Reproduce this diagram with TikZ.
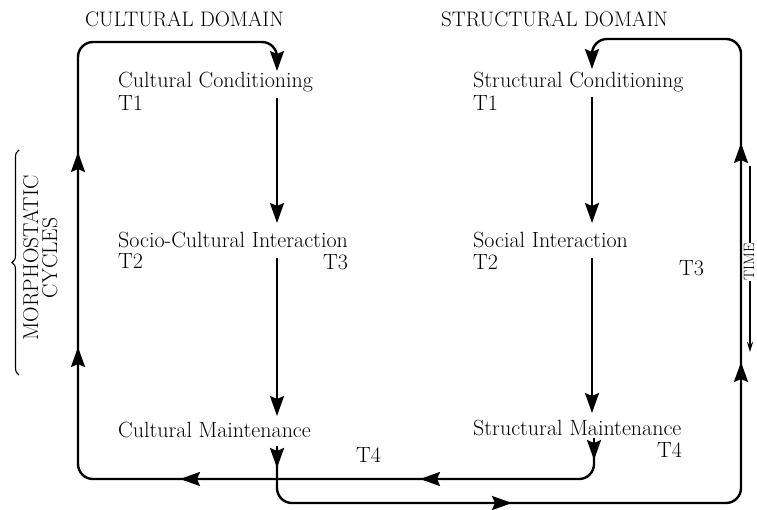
\documentclass[tikz,border=0pt]{standalone}
\usetikzlibrary{arrows.meta,decorations.pathreplacing}
\begin{document}
\begin{tikzpicture}[x=1pt,y=-1pt,
  txt/.style={inner sep=0pt,anchor=base west,font=\fontsize{22}{26}\selectfont},
  head/.style={inner sep=0pt,anchor=base west,font=\fontsize{21}{25}\selectfont},
  side/.style={inner sep=0pt,anchor=base,rotate=90,font=\fontsize{21.5}{25}\selectfont},
  arrowtip/.style={-{Stealth[length=20pt,width=14pt,inset=3pt]}},
  flow/.style={line width=2.4pt,arrowtip},
  timeline/.style={line width=2pt}]
\useasboundingbox (0,0) rectangle (757,509);

% headings
\node[head] (hc) at (85,26) {CULTURAL DOMAIN};
\node[head] (hs) at (441,26) {STRUCTURAL DOMAIN};

% cultural column
\node[txt] (cc) at (118,87) {Cultural Conditioning};
\node[txt] (ct1) at (118,110) {T1};
\node[txt] (ci) at (118,247) {Socio-Cultural Interaction};
\node[txt] (ct2) at (118,268) {T2};
\node[txt] (ct3) at (323,269) {T3};
\node[txt] (cm) at (118,437) {Cultural Maintenance};
\node[txt] (ct4) at (356,462) {T4};

% structural column
\node[txt] (sc) at (473,87) {Structural Conditioning};
\node[txt] (st1) at (473,110) {T1};
\node[txt] (si) at (473,247) {Social Interaction};
\node[txt] (st2) at (473,269) {T2};
\node[txt] (st3) at (679,275) {T3};
\node[txt] (sm) at (473,435) {Structural Maintenance};
\node[txt] (st4) at (657,457) {T4};

% side labels
\node[side] (morph) at (38,258) {MORPHOSTATIC};
\node[side] (cyc) at (57,258) {CYCLES};
\node[side,font=\fontsize{15}{18}\selectfont] (time) at (754,262) {TIME};

% waypoints of the downward flows
\coordinate (a1) at (277,98);  \coordinate (a2) at (277,223);
\coordinate (a3) at (277,258); \coordinate (a4) at (277,416);
\coordinate (b1) at (592,97);  \coordinate (b2) at (592,223);
\coordinate (b3) at (592,258); \coordinate (b4) at (592,413);

% downward flows within each domain
\draw[flow] (a1) -- (a2);
\draw[flow] (a3) -- (a4);
\draw[flow] (b1) -- (b2);
\draw[flow] (b3) -- (b4);

% structural maintenance feeds back to cultural conditioning
\coordinate (l0) at (594,443);
\coordinate (l1) at (594,479);
\coordinate (l2) at (78,479);
\coordinate (l3) at (78,42);
\coordinate (l4) at (277,42);
\coordinate (l5) at (277,71);
\draw[flow,rounded corners=15] (l0) -- (l1) -- (l2) -- (l3) -- (l4) [rounded corners=4] -- (l5);
% heads along the way
\coordinate (lh1) at (594,460);
\coordinate (lh2) at (420,479);
\coordinate (lh3) at (180,479);
\coordinate (lh4) at (78,347);
\coordinate (lh5) at (78,152);
\draw[flow] ([yshift=22pt]lh1) -- (lh1);
\draw[flow] ([xshift=22pt]lh2) -- (lh2);
\draw[flow] ([xshift=22pt]lh3) -- (lh3);
\draw[flow] ([yshift=-22pt]lh4) -- (lh4);
\draw[flow] ([yshift=-22pt]lh5) -- (lh5);

% cultural maintenance feeds forward to structural conditioning
\coordinate (r0) at (277,448);
\coordinate (r1) at (277,503);
\coordinate (r2) at (741,503);
\coordinate (r3) at (741,39);
\coordinate (r4) at (592,39);
\coordinate (r5) at (592,69);
\draw[flow,rounded corners=15] (r0) -- (r1) -- (r2) -- (r3) -- (r4) [rounded corners=4] -- (r5);
% heads along the way
\coordinate (rh1) at (277,468);
\coordinate (rh2) at (512,503);
\coordinate (rh3) at (741,362);
\coordinate (rh4) at (741,143);
\draw[flow] ([yshift=22pt]rh1) -- (rh1);
\draw[flow] ([xshift=-22pt]rh2) -- (rh2);
\draw[flow] ([yshift=-22pt]rh3) -- (rh3);
\draw[flow] ([yshift=-22pt]rh4) -- (rh4);

% brace grouping the morphostatic cycles
\coordinate (br1) at (19,375);
\coordinate (br2) at (19,150);
\draw[line width=1.1pt,decorate,decoration={brace,amplitude=7pt}] (br1) -- (br2);

% time axis
\coordinate (t0) at (750,166);
\coordinate (t1) at (750,352);
\draw[timeline] (t0) -- (t0 |- time.east);
\draw[timeline,-{Stealth[length=10pt,width=6pt]}] (t1 |- time.west) -- (t1);
\end{tikzpicture}
\end{document}
